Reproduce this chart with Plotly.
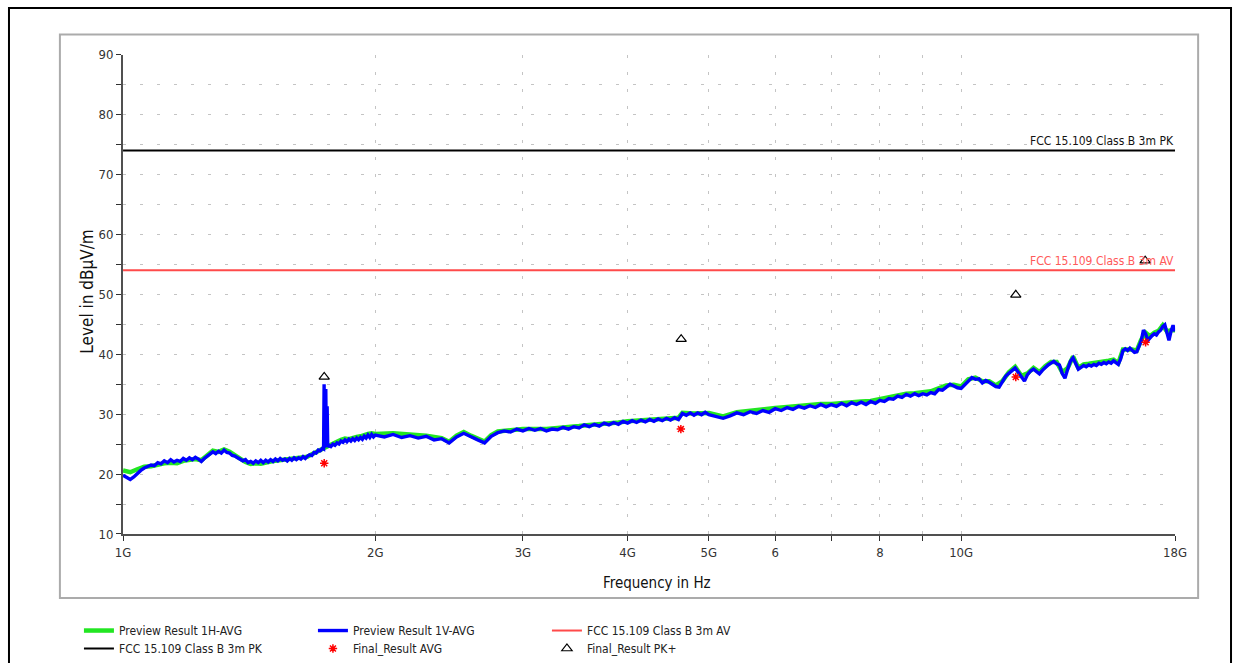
import math
import plotly.graph_objects as go

# ---------------- data (frequency in GHz, level in dBµV/m) ----------------
FREQ_1V = [
    1.00, 1.01, 1.02, 1.03, 1.04, 1.05, 1.06, 1.07, 1.08, 1.09,
    1.10, 1.11, 1.12, 1.13, 1.14, 1.15, 1.16, 1.17, 1.18, 1.19,
    1.20, 1.21, 1.22, 1.23, 1.24, 1.25, 1.26, 1.27, 1.28, 1.29,
    1.30, 1.31, 1.32, 1.33, 1.34, 1.35, 1.36, 1.37, 1.38, 1.39,
    1.40, 1.41, 1.42, 1.43, 1.44, 1.45, 1.46, 1.47, 1.48, 1.49,
    1.50, 1.51, 1.52, 1.53, 1.54, 1.55, 1.56, 1.57, 1.58, 1.59,
    1.60, 1.61, 1.62, 1.63, 1.64, 1.65, 1.66, 1.67, 1.68, 1.69,
    1.70, 1.71, 1.72, 1.73, 1.735, 1.7375, 1.740, 1.7455, 1.748, 1.752,
    1.755, 1.76, 1.77, 1.78, 1.79, 1.80, 1.81, 1.82, 1.83, 1.84,
    1.85, 1.86, 1.87, 1.88, 1.89, 1.90, 1.91, 1.92, 1.93, 1.94,
    1.95, 1.96, 1.97, 1.98, 1.99, 2.00,
    2.05, 2.10, 2.15, 2.20, 2.25, 2.30, 2.35, 2.40, 2.45, 2.50,
    2.55, 2.60, 2.65, 2.70, 2.75, 2.80, 2.85, 2.90, 2.95, 3.00,
    3.05, 3.10, 3.15, 3.20, 3.25, 3.30, 3.35, 3.40, 3.45, 3.50,
    3.55, 3.60, 3.65, 3.70, 3.75, 3.80, 3.85, 3.90, 3.95, 4.00,
    4.05, 4.10, 4.15, 4.20, 4.25, 4.30, 4.35, 4.40, 4.45, 4.50,
    4.55, 4.60, 4.65, 4.70, 4.75, 4.80, 4.85, 4.90, 4.95, 5.00,
    5.1, 5.2, 5.3, 5.4, 5.5, 5.6, 5.7, 5.8, 5.9, 6.0,
    6.1, 6.2, 6.3, 6.4, 6.5, 6.6, 6.7, 6.8, 6.9, 7.0,
    7.1, 7.2, 7.3, 7.4, 7.5, 7.6, 7.7, 7.8, 7.9, 8.0,
    8.1, 8.2, 8.3, 8.4, 8.5, 8.6, 8.7, 8.8, 8.9, 9.0,
    9.1, 9.2, 9.3, 9.4, 9.5, 9.6, 9.7, 9.8, 9.9, 10.0,
    10.1, 10.2, 10.3, 10.4, 10.5, 10.6, 10.7, 10.8, 10.9, 11.0,
    11.1, 11.2, 11.3, 11.4, 11.5, 11.6, 11.7, 11.8, 11.9, 12.0,
    12.1, 12.2, 12.3, 12.4, 12.5, 12.6, 12.7, 12.8, 12.9, 13.0,
    13.1, 13.2, 13.3, 13.4, 13.5, 13.6, 13.7, 13.8, 13.9, 14.0,
    14.1, 14.2, 14.3, 14.4, 14.5, 14.6, 14.7, 14.8, 14.9, 15.0,
    15.1, 15.2, 15.3, 15.4, 15.5, 15.6, 15.7, 15.8, 15.9, 16.0,
    16.1, 16.2, 16.3, 16.4, 16.5, 16.6, 16.7, 16.8, 16.9, 17.0,
    17.1, 17.2, 17.3, 17.4, 17.5, 17.6, 17.7, 17.8, 17.9, 18.0,
]
LEVEL_1V = [
    19.8, 19.4, 19.1, 19.5, 20.1, 20.6, 21.0, 21.2, 21.5, 21.4,
    21.9, 21.7, 22.2, 21.9, 22.4, 22.0, 22.3, 22.1, 22.6, 22.3,
    22.7, 22.4, 22.8, 22.5, 22.1, 22.6, 23.0, 23.4, 23.7, 23.4,
    23.8, 23.5, 24.0, 23.6, 23.5, 23.1, 23.0, 22.7, 22.5, 22.2,
    22.4, 21.9, 22.1, 21.8, 22.2, 21.9, 22.3, 21.9, 22.3, 22.0,
    22.4, 22.1, 22.5, 22.2, 22.6, 22.3, 22.5, 22.2, 22.6, 22.3,
    22.7, 22.4, 22.7, 22.5, 22.9, 22.6, 23.0, 23.2, 23.1, 23.6,
    23.5, 24.0, 23.9, 24.3, 24.2, 35.0, 24.4, 34.2, 24.5, 31.3,
    24.5, 24.8, 24.6, 25.0, 24.8, 25.2, 25.0, 25.5, 25.3, 25.7,
    25.4, 25.8, 25.5, 25.9, 25.6, 26.0, 25.7, 26.1, 25.8, 26.3,
    26.0, 26.5, 26.1, 26.6, 26.2, 26.5,
    26.2, 26.6, 26.1, 26.4, 26.0, 26.3, 25.7, 25.9, 25.2, 26.2,
    26.8, 26.2, 25.7, 25.2, 26.3, 26.9, 27.2, 27.0, 27.5, 27.2,
    27.6, 27.3, 27.6, 27.2, 27.5, 27.4, 27.8, 27.5, 27.9, 27.7,
    28.2, 27.9, 28.3, 28.0, 28.5, 28.2, 28.6, 28.3, 28.8, 28.5,
    28.9, 28.6, 29.0, 28.7, 29.1, 28.8, 29.2, 28.9, 29.3, 29.0,
    29.4, 29.1, 30.1, 29.8, 30.2, 29.8, 30.2, 29.9, 30.3, 29.9,
    29.6, 29.3, 29.7, 30.2, 29.9, 30.4, 30.1, 30.6, 30.3, 30.9,
    30.6, 31.1, 30.8, 31.3, 31.0, 31.4, 31.1, 31.6, 31.2, 31.6,
    31.3, 31.8, 31.4, 31.9, 31.6, 32.0, 31.6, 32.1, 31.8, 32.3,
    32.1, 32.6, 32.5, 33.0, 32.8, 33.3, 33.0, 33.4, 33.1, 33.4,
    33.2, 33.6, 33.4, 34.1, 34.0, 34.6, 35.0, 34.7, 34.4, 34.3,
    34.9, 35.6, 36.1, 35.8, 35.9, 35.2, 35.6, 35.3, 34.9, 34.6,
    34.5, 35.3, 36.3, 36.8, 37.2, 37.7, 37.0, 36.2, 35.5, 36.6,
    37.2, 37.5, 37.1, 36.7, 37.3, 37.8, 38.2, 38.5, 38.8, 38.4,
    38.2, 36.8, 36.0, 37.5, 38.8, 39.4, 38.5, 37.5, 37.8, 38.1,
    37.9, 38.2, 38.0, 38.3, 38.1, 38.5, 38.3, 38.6, 38.4, 38.7,
    38.5, 38.9, 38.6, 38.3, 39.2, 40.6, 40.9, 40.6, 41.0, 40.6,
    40.3, 40.4, 41.3, 42.2, 44.0, 43.4, 42.3, 42.8, 43.1, 43.4,
    43.2, 43.7, 44.0, 44.6, 44.9, 43.6, 42.3, 43.8, 44.8, 43.8,
]

FREQ_1H = [
    1.00, 1.02, 1.04, 1.06, 1.08, 1.10, 1.12, 1.14, 1.16, 1.18,
    1.20, 1.22, 1.24, 1.26, 1.28, 1.30, 1.32, 1.34, 1.36, 1.38,
    1.40, 1.42, 1.44, 1.46, 1.48, 1.50, 1.52, 1.54, 1.56, 1.58,
    1.60, 1.62, 1.64, 1.66, 1.68, 1.70, 1.72, 1.74, 1.76, 1.78,
    1.80, 1.82, 1.84, 1.86, 1.88, 1.90, 1.92, 1.94, 1.96, 1.98,
    2.00, 2.10, 2.20, 2.30, 2.40, 2.45, 2.50, 2.55, 2.60, 2.65,
    2.70, 2.75, 2.80, 2.90, 3.00, 3.10, 3.20, 3.30, 3.40, 3.50,
    3.60, 3.70, 3.80, 3.90, 4.00, 4.10, 4.20, 4.30, 4.40, 4.50,
    4.60, 4.65, 4.80, 5.00, 5.20, 5.40, 5.60, 5.80, 6.00, 6.20,
    6.40, 6.60, 6.80, 7.00, 7.20, 7.40, 7.60, 7.80, 8.00, 8.20,
    8.40, 8.60, 8.80, 9.00, 9.20, 9.40, 9.60, 9.80, 10.0, 10.2,
    10.4, 10.6, 10.8, 11.0, 11.2, 11.4, 11.6, 11.8, 12.0, 12.2,
    12.4, 12.6, 12.8, 13.0, 13.2, 13.4, 13.6, 13.8, 14.0, 14.2,
    14.4, 14.6, 14.8, 15.0, 15.2, 15.4, 15.6, 15.8, 16.0, 16.2,
    16.4, 16.6, 16.8, 17.0, 17.2, 17.4, 17.6, 17.8, 18.0,
]
LEVEL_1H = [
    20.6, 20.3, 20.8, 21.2, 21.3, 21.6, 21.8, 21.9, 21.8, 22.2,
    22.3, 22.5, 22.3, 23.2, 23.9, 23.7, 24.1, 23.7, 23.1, 22.4,
    22.0, 21.7, 21.8, 21.7, 22.0, 22.1, 22.2, 22.3, 22.4, 22.4,
    22.5, 22.6, 22.7, 22.9, 23.3, 23.6, 24.0, 24.4, 24.8, 25.2,
    25.4, 25.7, 25.9, 25.8, 26.1, 26.2, 26.3, 26.6, 26.7, 26.8,
    26.7, 26.8, 26.6, 26.4, 26.0, 25.4, 26.4, 27.0, 26.4, 25.8,
    25.4, 26.5, 27.1, 27.3, 27.5, 27.5, 27.5, 27.7, 27.8, 28.0,
    28.2, 28.3, 28.5, 28.6, 28.8, 28.9, 29.0, 29.1, 29.2, 29.3,
    29.4, 30.2, 30.1, 30.2, 29.6, 30.3, 30.6, 30.8, 31.0, 31.2,
    31.4, 31.5, 31.7, 31.7, 31.9, 32.0, 32.1, 32.2, 32.5, 32.8,
    33.2, 33.4, 33.5, 33.6, 33.8, 34.3, 34.8, 34.9, 34.6, 35.8,
    36.1, 35.5, 35.5, 34.8, 35.5, 37.0, 37.9, 36.4, 36.8, 37.7,
    37.0, 38.0, 38.7, 38.7, 37.0, 37.7, 39.6, 37.7, 38.3, 38.4,
    38.5, 38.7, 38.8, 38.9, 39.1, 38.5, 40.8, 40.8, 40.8, 40.6,
    42.4, 43.6, 43.0, 43.6, 43.9, 44.8, 43.8, 44.0, 44.0,
]

LIMIT_FREQ = [1.0, 18.0]
PK_LIMIT = [74.0, 74.0]
AV_LIMIT = [54.0, 54.0]

AVG_FREQ = [1.738, 4.63, 11.62, 16.60]
AVG_LEVEL = [21.8, 27.5, 36.2, 42.0]
PK_FREQ = [1.738, 4.634, 11.62, 16.58]
PK_LEVEL = [36.2, 42.5, 49.9, 55.6]

X_TICKS = [1, 2, 3, 4, 5, 6, 7, 8, 9, 10, 18]
X_LABELS = ["1G", "2G", "3G", "4G", "5G", "6", "", "8", "", "10G", "18G"]
Y_TICKS = [10, 20, 30, 40, 50, 60, 70, 80, 90]

# ---------------- figure ----------------
W, H = 1244, 663
# the photographed page is slightly inset/scaled; convert target picture pixels to page pixels
SX, AX = 0.982, 9.2
SY, AY = 0.972, 6.5


def PX(sx):
    return ((sx - AX) / SX) / W


def PY(sy):
    return 1 - ((sy - AY) / SY) / H


FONT = "DejaVu Sans Condensed, Liberation Sans Narrow, Arial Narrow, Liberation Sans, Arial, sans-serif"
GRID = "#c4c4c4"
DASH = "3px,14px"

fig = go.Figure()
fig.add_trace(go.Scatter(x=FREQ_1H, y=LEVEL_1H, mode="lines", name="Preview Result 1H-AVG",
                         line=dict(color="#22e622", width=4.5), legend="legend"))
fig.add_trace(go.Scatter(x=FREQ_1V, y=LEVEL_1V, mode="lines", name="Preview Result 1V-AVG",
                         line=dict(color="#0000ff", width=3.4), legend="legend"))
fig.add_trace(go.Scatter(x=LIMIT_FREQ, y=AV_LIMIT, mode="lines", name="FCC 15.109 Class B 3m AV",
                         line=dict(color="#ff4a4a", width=2), legend="legend"))
fig.add_trace(go.Scatter(x=LIMIT_FREQ, y=PK_LIMIT, mode="lines", name="FCC 15.109 Class B 3m PK",
                         line=dict(color="#000000", width=2), legend="legend2"))
fig.add_trace(go.Scatter(x=AVG_FREQ, y=AVG_LEVEL, mode="markers", name="Final_Result AVG",
                         marker=dict(symbol="asterisk", size=7, color="#ff0000",
                                     line=dict(color="#ff0000", width=1.5)), legend="legend2"))
fig.add_trace(go.Scatter(x=PK_FREQ, y=PK_LEVEL, mode="markers", name="Final_Result PK+",
                         marker=dict(symbol="triangle-up-open", size=9, color="#000000",
                                     line=dict(color="#000000", width=1.2)), legend="legend2"))

legend_common = dict(orientation="h", xanchor="left", yanchor="top", entrywidth=189,
                     entrywidthmode="pixels", bgcolor="rgba(0,0,0,0)", borderwidth=0,
                     font=dict(family=FONT, size=12, color="#222222"), traceorder="normal")

fig.update_layout(
    width=W, height=H, autosize=False,
    margin=dict(l=0, r=0, t=0, b=0),
    paper_bgcolor="white", plot_bgcolor="white",
    font=dict(family=FONT, size=13, color="#333333"),
    showlegend=True,
    legend=dict(x=PX(80), y=PY(615), **legend_common),
    legend2=dict(x=PX(80), y=PY(633), **legend_common),
    xaxis=dict(type="log", range=[0, math.log10(18)], domain=[PX(124), PX(1174)],
               tickmode="array", tickvals=X_TICKS, ticktext=X_LABELS,
               showgrid=True, gridcolor=GRID, griddash=DASH, gridwidth=1,
               showline=True, linecolor="#505050", linewidth=2, zeroline=False,
               ticks="outside", ticklen=5, tickcolor="#303030", tickwidth=1,
               tickfont=dict(family=FONT, size=13, color="#333333")),
    yaxis=dict(range=[10, 90], domain=[PY(533), PY(54)],
               tickmode="array", tickvals=Y_TICKS,
               showgrid=True, gridcolor=GRID, griddash=DASH, gridwidth=1,
               showline=True, linecolor="#505050", linewidth=2, zeroline=False,
               ticks="outside", ticklen=5, tickcolor="#303030", tickwidth=1,
               tickfont=dict(family=FONT, size=13, color="#333333"),
               minor=dict(dtick=5, tick0=5, ticks="outside", ticklen=5, tickcolor="#303030",
                          showgrid=True, gridcolor=GRID, griddash=DASH, gridwidth=1)),
    shapes=[
        dict(type="rect", xref="paper", yref="paper", x0=1 / W, x1=(W - 1) / W, y0=1 - 1 / H, y1=-0.05,
             line=dict(color="#000000", width=2), fillcolor="rgba(0,0,0,0)", layer="above"),
        dict(type="rect", xref="paper", yref="paper", x0=PX(61), x1=PX(1197), y0=PY(34), y1=PY(597),
             line=dict(color="#ababab", width=2), fillcolor="rgba(0,0,0,0)", layer="below"),
    ],
    annotations=[
        dict(text="Frequency in Hz", xref="paper", yref="paper", x=PX(657), y=PY(582),
             xanchor="center", yanchor="middle", showarrow=False,
             font=dict(family=FONT, size=15, color="#111111")),
        dict(text="Level in dBµV/m", xref="paper", yref="paper", x=PX(88), y=PY(291),
             xanchor="center", yanchor="middle", textangle=-90, showarrow=False,
             font=dict(family=FONT, size=17, color="#111111")),
        dict(text="FCC 15.109 Class B 3m PK", xref="paper", yref="y", x=PX(1175), y=74,
             xanchor="right", yanchor="bottom", showarrow=False,
             font=dict(family=FONT, size=12, color="#111111")),
        dict(text="FCC 15.109 Class B 3m AV", xref="paper", yref="y", x=PX(1175), y=54,
             xanchor="right", yanchor="bottom", showarrow=False,
             font=dict(family=FONT, size=12, color="#ff5a5a")),
    ],
)

fig.write_html("out.html", config={"displayModeBar": False},
               post_script="document.body.style.margin='0';document.body.style.overflow='hidden';")
